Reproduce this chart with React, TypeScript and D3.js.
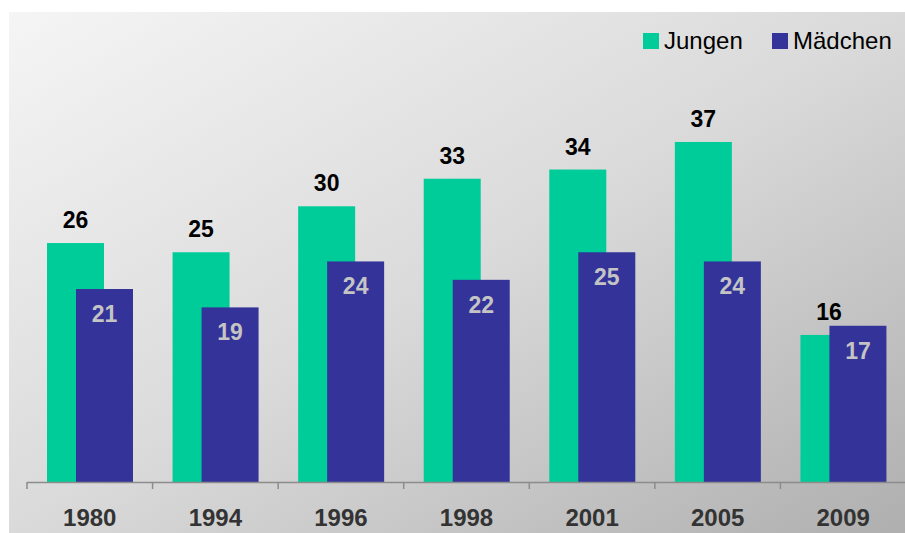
import React from "react";
import * as d3 from "d3";

const categories = ["1980", "1994", "1996", "1998", "2001", "2005", "2009"];
const jungen = [26, 25, 30, 33, 34, 37, 16];
const maedchen = [21, 19, 24, 22, 25, 24, 17];
const seriesNames = ["Jungen", "Mädchen"];
const colors = ["#00CC99", "#333399"];

const W = 905;
const H = 533;
const FONT = "'Liberation Sans', Arial, sans-serif";

export default function App() {
  const x = d3.scaleBand<string>().domain(categories).range([27, 906]).padding(0);
  const y = d3.scaleLinear().domain([0, 40]).range([482, 114.4]);
  const bw = 57;
  const off = 20;
  const shift = 29;
  const ticks = d3.range(categories.length + 1).map((i) => 27 + i * x.bandwidth());

  return (
    <svg
      width={W}
      height={H}
      style={{ position: "absolute", left: 0, top: 0, display: "block" }}
      fontFamily={FONT}
    >
      <defs>
        <linearGradient id="bg" x1="0" y1="0" x2="1" y2="1">
          <stop offset="0" stopColor="#f5f5f5" />
          <stop offset="0.5" stopColor="#dadada" />
          <stop offset="1" stopColor="#afafaf" />
        </linearGradient>
      </defs>
      <rect x={0} y={0} width={W} height={H} fill="#ffffff" />
      <rect x={9} y={12} width={W - 9} height={H - 12} fill="url(#bg)" />

      {categories.map((c, i) => {
        const x0 = x(c)! + off;
        return (
          <g key={c}>
            <rect x={x0} y={y(jungen[i])} width={bw} height={y(0) - y(jungen[i])} fill={colors[0]} />
            <rect x={x0 + shift} y={y(maedchen[i])} width={bw} height={y(0) - y(maedchen[i])} fill={colors[1]} />
            <text
              x={x0 + bw / 2}
              y={y(jungen[i]) - 15}
              textAnchor="middle"
              fontSize={23}
              fontWeight="bold"
              fill="#000"
            >
              {jungen[i]}
            </text>
            <text
              x={x0 + shift + bw / 2}
              y={y(maedchen[i]) + 33}
              textAnchor="middle"
              fontSize={23}
              fontWeight="bold"
              fill="#c4c4c4"
            >
              {maedchen[i]}
            </text>
            <text
              x={x(c)! + x.bandwidth() / 2}
              y={526}
              textAnchor="middle"
              fontSize={24}
              fontWeight="bold"
              fill="#333333"
            >
              {c}
            </text>
          </g>
        );
      })}

      <line x1={27} x2={W} y1={482.5} y2={482.5} stroke="#8c8c8c" strokeWidth={1.5} />
      {ticks.map((t, i) => (
        <line key={i} x1={t} x2={t} y1={482} y2={489} stroke="#8c8c8c" strokeWidth={1.5} />
      ))}

      <g>
        <rect x={643} y={33} width={16} height={16} fill={colors[0]} />
        <text x={664} y={49} fontSize={24} fill="#000">{seriesNames[0]}</text>
        <rect x={772} y={33} width={16} height={16} fill={colors[1]} />
        <text x={793} y={49} fontSize={24} fill="#000">{seriesNames[1]}</text>
      </g>
    </svg>
  );
}
